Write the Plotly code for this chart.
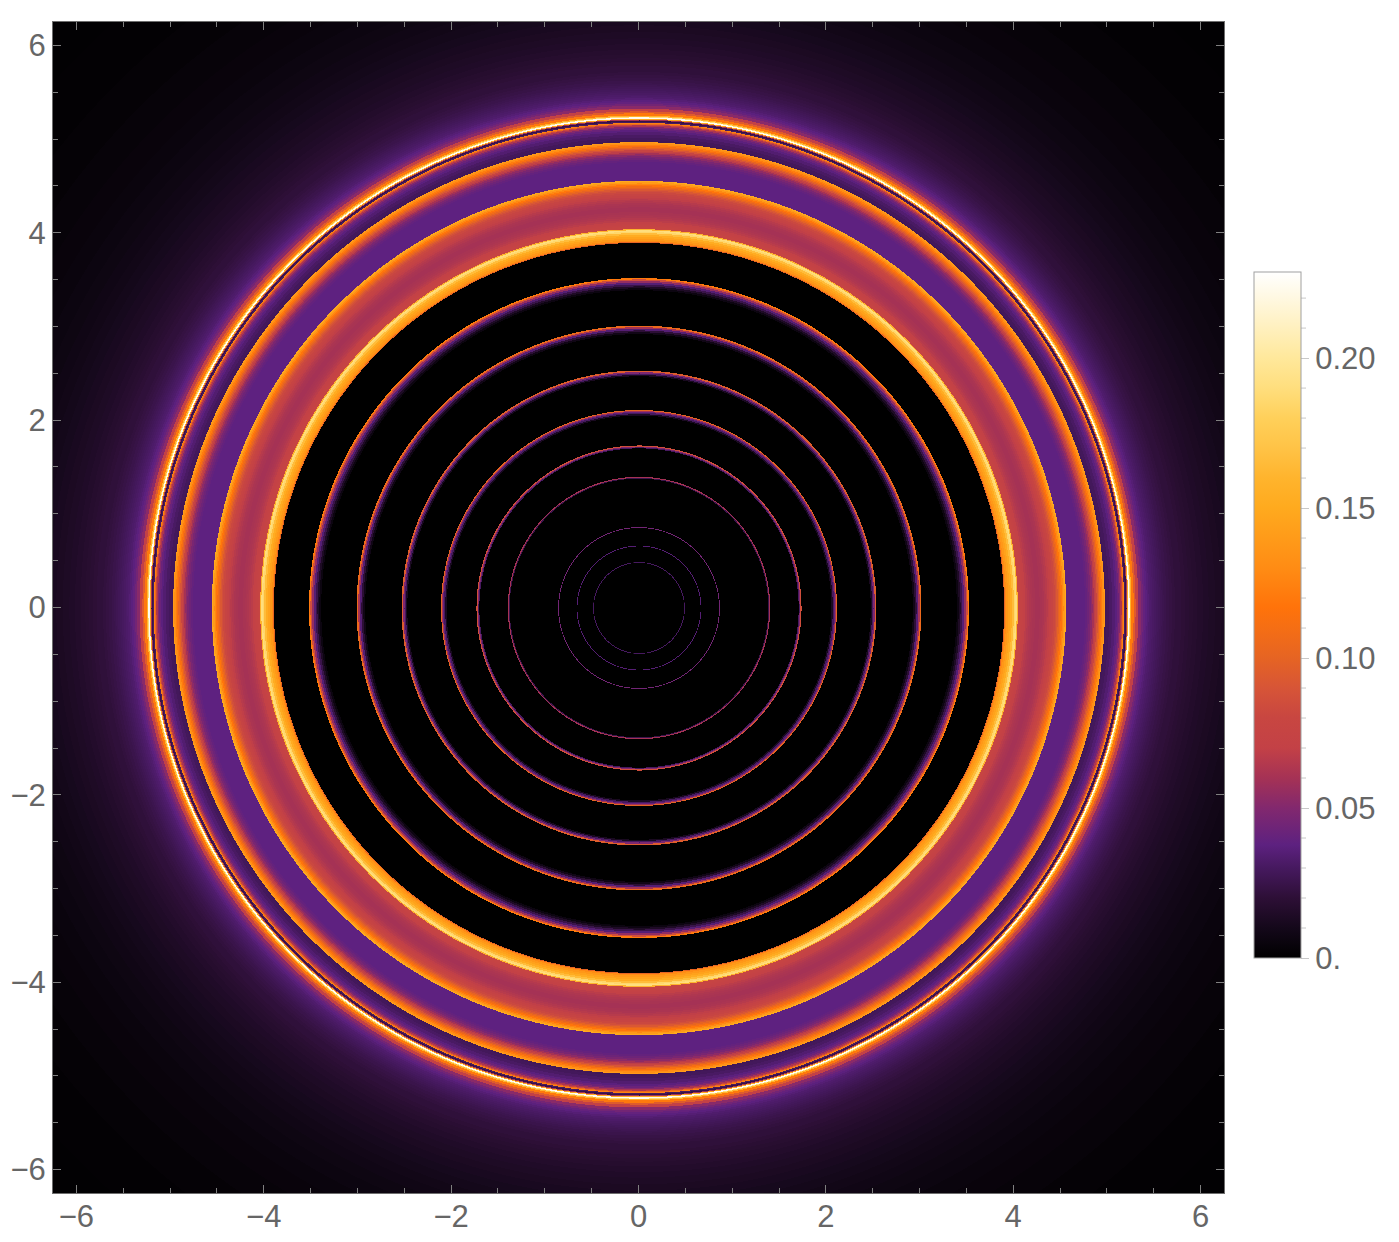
"""
Mapa radial de intensidad con anillos, escala tipo SunsetColors.
"""
import numpy as np
import plotly.graph_objects as go

# Radio exterior de cada banda y nivel
ring_edges = [
    0.476, 0.485, 0.653, 0.662, 0.849, 0.858,
    1.376, 1.385, 1.396,
    1.700, 1.710, 1.720, 1.731,
    2.050, 2.065, 2.080, 2.090, 2.100, 2.110,
    2.470, 2.485, 2.500, 2.515, 2.532,
    2.920, 2.940, 2.960, 2.980, 2.995, 3.012,
    3.390, 3.410, 3.430, 3.450, 3.470, 3.490, 3.505, 3.520,
    3.895, 3.905, 3.920, 3.940, 3.960, 3.980, 4.000, 4.015, 4.030, 4.042,
    4.055, 4.070, 4.085, 4.100, 4.120, 4.140, 4.160, 4.180, 4.200, 4.225, 4.250, 4.275, 4.300, 4.320,
    4.340, 4.360, 4.380, 4.400, 4.420, 4.440, 4.455, 4.470, 4.485, 4.500, 4.515, 4.530, 4.545, 4.558,
    4.580, 4.760, 4.780, 4.800, 4.820, 4.840, 4.855, 4.870, 4.885, 4.900, 4.915, 4.930, 4.945, 4.960, 4.972,
    4.990, 5.020, 5.050, 5.080, 5.100, 5.120, 5.135, 5.150, 5.160, 5.170, 5.178,
    5.190, 5.203, 5.212, 5.222, 5.236,
    5.244, 5.256, 5.280, 5.300, 5.330, 5.360, 5.380, 5.400, 5.420, 5.440, 5.460, 5.480, 5.500,
    5.520, 5.540, 5.560, 5.580, 5.600, 5.630, 5.660, 5.690, 5.720, 5.750, 5.790, 5.830, 5.870, 5.910,
    5.960, 6.020, 6.080, 6.150, 6.220, 6.300, 6.380, 6.470, 6.560, 6.660, 6.780, 6.920, 7.080, 7.280,
    7.550, 7.900, 8.400, 9.000,
]
ring_levels = [
    0.0, 0.03, 0.0, 0.035, 0.0, 0.045,
    0.0, 0.025, 0.06,
    0.0, 0.03, 0.05, 0.085,
    0.0, 0.012, 0.03, 0.04, 0.06, 0.10,
    0.0, 0.012, 0.03, 0.048, 0.095,
    0.0, 0.008, 0.02, 0.035, 0.06, 0.105,
    0.0, 0.006, 0.014, 0.025, 0.035, 0.055, 0.085, 0.12,
    0.0, 0.10, 0.13, 0.138, 0.145, 0.152, 0.165, 0.185, 0.19, 0.16,
    0.078, 0.076, 0.074, 0.072, 0.07, 0.067, 0.065, 0.063, 0.062, 0.061, 0.06, 0.06, 0.061, 0.062,
    0.064, 0.066, 0.069, 0.072, 0.076, 0.081, 0.086, 0.092, 0.10, 0.108, 0.118, 0.128, 0.14, 0.15,
    0.038, 0.038, 0.04, 0.043, 0.047, 0.053, 0.06, 0.068, 0.078, 0.09, 0.10, 0.112, 0.122, 0.132, 0.14,
    0.028, 0.029, 0.031, 0.034, 0.037, 0.042, 0.05, 0.062, 0.08, 0.105, 0.125,
    0.03, 0.024, 0.06, 0.15, 0.225,
    0.19, 0.16, 0.12, 0.095, 0.07, 0.052, 0.045, 0.04, 0.037, 0.035, 0.033, 0.032, 0.031,
    0.03, 0.029, 0.028, 0.027, 0.026, 0.025, 0.024, 0.023, 0.022, 0.021, 0.021, 0.02, 0.019, 0.018,
    0.017, 0.016, 0.015, 0.014, 0.013, 0.012, 0.011, 0.01, 0.009, 0.008, 0.007, 0.006, 0.005, 0.0043,
    0.0035, 0.0025, 0.0015, 0.001,
]

axis_ticks = [-6, -4, -2, 0, 2, 4, 6]
colorbar_values = [0.0, 0.05, 0.10, 0.15, 0.20]
colorbar_labels = ["0.", "0.05", "0.10", "0.15", "0.20"]
colorbar_minor = [0.01, 0.02, 0.03, 0.04, 0.06, 0.07, 0.08, 0.09, 0.11, 0.12, 0.13, 0.14, 0.16, 0.17, 0.18, 0.19, 0.21, 0.22]

z_max = 0.2287
sunset_values = [0.0, 0.01, 0.02, 0.03, 0.0377, 0.05, 0.06, 0.07, 0.08, 0.09, 0.10, 0.11, 0.117,
                 0.13, 0.14, 0.15, 0.16, 0.17, 0.18, 0.19, 0.20, 0.21, 0.22, z_max]
sunset_colors = ["#000000", "#14081a", "#2d0f36", "#46195f", "#5d2180", "#82286e", "#a53255", "#c34146",
                 "#c84641", "#d75537", "#e66423", "#f56e14", "#ff730a",
                 "#ff8c14", "#ff9b19", "#ffaa1e", "#ffb42d", "#ffc346", "#ffd05a", "#ffde7d", "#ffe89b",
                 "#fff0be", "#fff8e1", "#ffffff"]

FONT = dict(family="Liberation Sans", size=31, color="#666666")
PLOT_PX = 1171
BAR_TOP = 272
BAR_BOTTOM = 958
PLOT_TOP = 22

grid = np.linspace(-6.25, 6.25, PLOT_PX)
xx, yy = np.meshgrid(grid, grid)
rr = np.hypot(xx, yy)
idx = np.clip(np.searchsorted(ring_edges, rr), 0, len(ring_levels) - 1)
z = np.array(ring_levels, dtype="float32")[idx]

fig = go.Figure(go.Heatmap(
    x=grid, y=grid, z=z,
    zmin=0, zmax=z_max, zsmooth="best",
    colorscale=[[v / z_max, c] for v, c in zip(sunset_values, sunset_colors)],
    hoverinfo="skip",
    colorbar=dict(
        thicknessmode="pixels", thickness=47,
        lenmode="pixels", len=BAR_BOTTOM - BAR_TOP,
        x=1201 / PLOT_PX, xanchor="left", xpad=0,
        y=(PLOT_TOP + PLOT_PX - (BAR_TOP + BAR_BOTTOM) / 2) / PLOT_PX, yanchor="middle", ypad=0,
        outlinecolor="#a0a0a0", outlinewidth=1,
        ticks="outside", ticklen=8, tickwidth=1, tickcolor="#c8c8c8",
        tickmode="array", tickvals=colorbar_values, ticktext=colorbar_labels,
        tickfont=FONT,
    ),
))

# Marcas menores de la barra de color
bar_scale = (BAR_BOTTOM - BAR_TOP) / z_max / PLOT_PX
bar_y0 = (PLOT_TOP + PLOT_PX - BAR_BOTTOM) / PLOT_PX
for v in colorbar_minor:
    fig.add_shape(type="line", xref="paper", yref="paper",
                  x0=(1201 + 47) / PLOT_PX, x1=(1201 + 47 + 5) / PLOT_PX,
                  y0=bar_y0 + v * bar_scale, y1=bar_y0 + v * bar_scale,
                  line=dict(color="#c8c8c8", width=1))

axis_style = dict(
    range=[-6.25, 6.25], tickvals=axis_ticks, tickfont=FONT, automargin=False,
    ticks="inside", ticklen=8, tickwidth=1, tickcolor="#808080",
    minor=dict(ticks="inside", dtick=0.5, tick0=0, ticklen=5, tickwidth=1, tickcolor="#808080"),
    showline=True, linecolor="#6e6e6e", linewidth=1, mirror="allticks",
    showgrid=False, zeroline=False,
)
fig.update_layout(
    width=1383, height=1230,
    margin=dict(l=45, t=14, r=167, b=45, autoexpand=False),
    paper_bgcolor="white", plot_bgcolor="black",
    xaxis=dict(axis_style, ticklabelstandoff=-4), yaxis=axis_style,
)
fig.write_html("out.html")
